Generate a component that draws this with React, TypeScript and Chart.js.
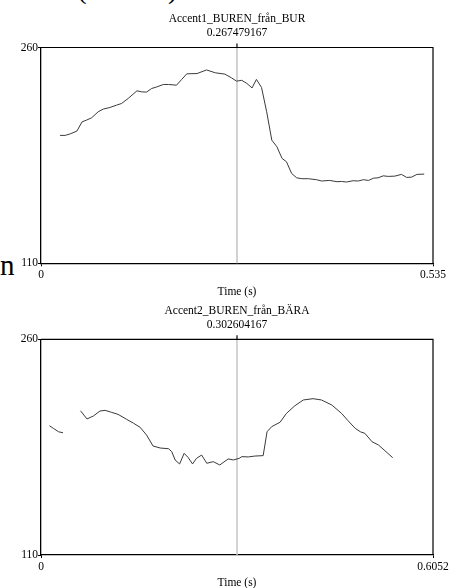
import React, { useEffect, useRef } from "react";
import { Chart, registerables } from "chart.js";

Chart.register(...registerables);

const FONT = "'Liberation Serif', 'Times New Roman', serif";

// ---------- data ----------
const yMin = 110;
const yMax = 260;
const yTickLabels = ["110", "260"];
const xAxisTitle = "Time (s)";

const title1 = "Accent1_BUREN_från_BUR";
const cursor1 = 0.267479167;
const cursorLabel1 = "0.267479167";
const xMax1 = 0.535;
const xTickLabels1 = ["0", "0.535"];
const time1 = [
  0.026, 0.033, 0.04, 0.049, 0.056, 0.062, 0.069, 0.078, 0.085, 0.094,
  0.103, 0.11, 0.119, 0.131, 0.137, 0.144, 0.151, 0.158, 0.167, 0.174,
  0.185, 0.192, 0.199, 0.213, 0.226, 0.238, 0.251, 0.26, 0.267, 0.274,
  0.281, 0.288, 0.294, 0.301, 0.308, 0.315, 0.322, 0.329, 0.335, 0.342,
  0.349, 0.356, 0.365, 0.376, 0.383, 0.394, 0.404, 0.41, 0.417, 0.426,
  0.433, 0.44, 0.447, 0.454, 0.46, 0.467, 0.474, 0.483, 0.492, 0.499,
  0.506, 0.513, 0.523,
];
const pitch1 = [
  198.9, 198.9, 200.0, 201.9, 208.3, 209.5, 211.1, 215.3, 217.2, 218.3,
  219.9, 221.1, 224.6, 229.9, 229.2, 229.0, 231.5, 232.6, 234.3, 234.3,
  233.8, 237.8, 241.7, 241.9, 244.4, 242.4, 241.5, 238.9, 236.6, 237.2,
  235.0, 231.9, 237.8, 232.2, 215.3, 195.6, 191.0, 182.9, 180.6, 172.5,
  169.4, 168.8, 168.8, 168.1, 167.2, 167.6, 166.7, 166.9, 166.5, 167.4,
  167.2, 168.1, 167.6, 169.2, 169.4, 170.8, 170.4, 170.6, 171.8, 169.7,
  169.9, 171.8, 172.0,
];

const title2 = "Accent2_BUREN_från_BÄRA";
const cursor2 = 0.302604167;
const cursorLabel2 = "0.302604167";
const xMax2 = 0.6052;
const xTickLabels2 = ["0", "0.6052"];
const time2 = [
  0.013, 0.019, 0.027, 0.034, 0.047, 0.061, 0.071, 0.081, 0.091, 0.099,
  0.109, 0.119, 0.132, 0.143, 0.153, 0.163, 0.173, 0.184, 0.197, 0.202,
  0.207, 0.214, 0.221, 0.227, 0.234, 0.24, 0.248, 0.256, 0.266, 0.276,
  0.289, 0.297, 0.306, 0.31, 0.32, 0.33, 0.343, 0.349, 0.356, 0.369,
  0.379, 0.392, 0.405, 0.42, 0.433, 0.449, 0.464, 0.474, 0.485, 0.493,
  0.5, 0.511, 0.521, 0.531, 0.543,
];
const pitch2: (number | null)[] = [
  199.9, 198.1, 195.7, 195.0, null, 210.3, 204.6, 206.7, 210.1, 210.6,
  209.2, 207.8, 204.4, 201.6, 198.8, 193.4, 185.8, 184.4, 183.9, 181.8,
  176.1, 173.3, 180.7, 177.9, 173.3, 177.2, 179.5, 173.8, 174.9, 172.6,
  176.8, 176.1, 177.2, 178.4, 178.2, 178.8, 179.1, 195.7, 199.2, 202.3,
  208.5, 213.8, 217.8, 218.7, 217.8, 214.3, 208.5, 203.4, 198.1, 195.7,
  194.6, 188.8, 186.5, 182.5, 177.7,
];

// ---------- component ----------
type PanelProps = {
  top: number;
  height: number;
  areaTop: number;
  areaBottom: number;
  title: string;
  cursor: number;
  cursorLabel: string;
  xMax: number;
  xTickLabels: string[];
  times: number[];
  values: (number | null)[];
};

const FS = 11.5;
const LH = 14.3;

function Panel(p: PanelProps) {
  const ref = useRef<HTMLCanvasElement | null>(null);
  useEffect(() => {
    if (!ref.current) return;
    const titlePadTop = p.areaTop - 2 * LH - LH / 2 + 0; // line1 center = areaTop - 2*LH
    const titlePadBottom = p.areaTop - titlePadTop - 2 * LH;
    const timeCenter = p.areaBottom + 28.4;
    const xTitlePadBottom = p.height - timeCenter - LH / 2;
    const font = { family: FONT, size: FS, lineHeight: LH / FS };

    const framePlugin = {
      id: "frameCursor",
      beforeDatasetsDraw(chart: any) {
        const { ctx, chartArea: a } = chart;
        const px = chart.scales.x.getPixelForValue(p.cursor);
        ctx.save();
        ctx.strokeStyle = "#c4c4c4";
        ctx.lineWidth = 1.5;
        ctx.beginPath();
        ctx.moveTo(px, a.top);
        ctx.lineTo(px, a.bottom);
        ctx.stroke();
        ctx.restore();
      },
      afterDatasetsDraw(chart: any) {
        const { ctx, chartArea: a } = chart;
        const px = chart.scales.x.getPixelForValue(p.cursor);
        ctx.save();
        ctx.strokeStyle = "#000";
        ctx.lineWidth = 1.2;
        ctx.beginPath();
        ctx.moveTo(a.left, a.top);
        ctx.lineTo(a.right, a.top);
        ctx.lineTo(a.right, a.bottom);
        ctx.stroke();
        ctx.beginPath();
        ctx.moveTo(px, a.top - 4);
        ctx.lineTo(px, a.top);
        ctx.stroke();
        ctx.restore();
      },
    };

    const chart = new Chart(ref.current, {
      type: "line",
      data: {
        datasets: [
          {
            data: p.times.map((t, i) => ({ x: t, y: p.values[i] })) as any,
            borderColor: "#3a3a3a",
            borderWidth: 1,
            pointRadius: 0,
            tension: 0,
            spanGaps: false,
          },
        ],
      },
      options: {
        responsive: false,
        animation: false,
        layout: { padding: { left: 0, right: 22, top: 0, bottom: 0 } },
        plugins: {
          legend: { display: false },
          tooltip: { enabled: false },
          title: {
            display: true,
            fullSize: false,
            text: [p.title, p.cursorLabel],
            color: "#000",
            font: { ...font, weight: "normal" },
            padding: { top: titlePadTop, bottom: titlePadBottom },
          },
        },
        scales: {
          x: {
            type: "linear",
            min: 0,
            max: p.xMax,
            afterBuildTicks: (s: any) => {
              s.ticks = [{ value: 0 }, { value: p.xMax }];
            },
            afterFit: (s: any) => {
              s.height = p.height - p.areaBottom;
            },
            ticks: {
              callback: (_v: any, i: number) => p.xTickLabels[i],
              color: "#000",
              font,
              padding: 2,
              maxRotation: 0,
              autoSkip: false,
            },
            grid: {
              display: true,
              drawOnChartArea: false,
              drawTicks: true,
              tickLength: 3,
              color: "#000",
              lineWidth: 1,
            },
            border: { display: true, color: "#000", width: 1.3 },
            title: {
              display: true,
              text: xAxisTitle,
              color: "#000",
              font,
              padding: { top: 0, bottom: xTitlePadBottom },
            },
          },
          y: {
            type: "linear",
            min: yMin,
            max: yMax,
            afterBuildTicks: (s: any) => {
              s.ticks = [{ value: yMin }, { value: yMax }];
            },
            afterFit: (s: any) => {
              s.width = 41;
            },
            ticks: {
              callback: (_v: any, i: number) => yTickLabels[i],
              color: "#000",
              font,
              padding: 0,
              autoSkip: false,
            },
            grid: {
              display: true,
              drawOnChartArea: false,
              drawTicks: true,
              tickLength: 3,
              color: "#000",
              lineWidth: 1,
            },
            border: { display: true, color: "#000", width: 1.3 },
          },
        },
      } as any,
      plugins: [framePlugin],
    });
    return () => chart.destroy();
  }, []);
  return (
    <canvas
      ref={ref}
      width={455}
      height={p.height}
      style={{ position: "absolute", left: 0, top: p.top, width: 455, height: p.height }}
    />
  );
}

export default function App() {
  useEffect(() => {
    document.body.style.margin = "0";
  }, []);
  const big: React.CSSProperties = {
    position: "absolute",
    fontFamily: FONT,
    fontSize: 29,
    lineHeight: 1,
    color: "#000",
    whiteSpace: "pre",
  };
  return (
    <div
      style={{
        position: "relative",
        width: 455,
        height: 588,
        overflow: "hidden",
        background: "#fff",
      }}
    >
      <span style={{ ...big, left: 77, top: -26.3 }}>(</span>
      <span style={{ ...big, left: 168, top: -26.3 }}>)</span>
      <span style={{ ...big, left: 0, top: 250.7 }}>n</span>
      <Panel
        top={0}
        height={300}
        areaTop={47.5}
        areaBottom={263.3}
        title={title1}
        cursor={cursor1}
        cursorLabel={cursorLabel1}
        xMax={xMax1}
        xTickLabels={xTickLabels1}
        times={time1}
        values={pitch1}
      />
      <Panel
        top={288}
        height={304}
        areaTop={51.3}
        areaBottom={267}
        title={title2}
        cursor={cursor2}
        cursorLabel={cursorLabel2}
        xMax={xMax2}
        xTickLabels={xTickLabels2}
        times={time2}
        values={pitch2}
      />
    </div>
  );
}
